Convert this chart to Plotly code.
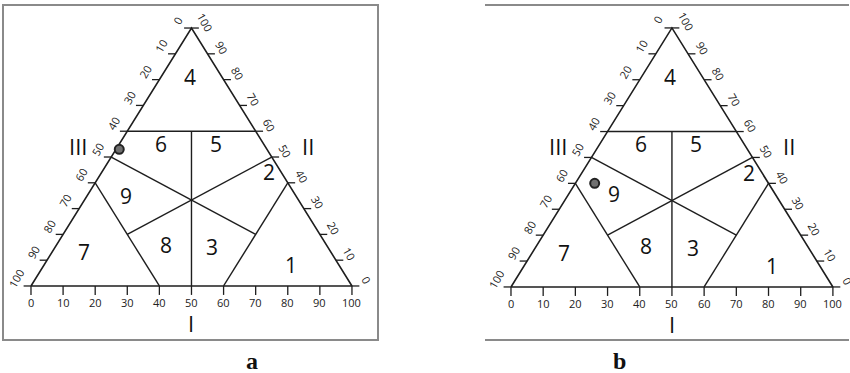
import math
import plotly.graph_objects as go

# tick values along each side (percent)
ticks = list(range(0, 101, 10))

# region boundaries, endpoints as (I, II, III) percent
boundaries = [
    ((40, 60, 0), (0, 60, 40)),
    ((50, 0, 50), (20, 60, 20)),
    ((40, 0, 60), (0, 40, 60)),
    ((60, 0, 40), (60, 40, 0)),
    ((0, 50, 50), (60, 20, 20)),
    ((50, 50, 0), (20, 20, 60)),
]

region_names = ['1', '2', '3', '4', '5', '6', '7', '8', '9']
region_pos_a = [(77, 8, 15), (52, 44, 4), (49, 15, 36), (9, 81, 10), (30, 55, 15),
                (13, 55, 32), (10, 13, 77), (34, 16, 50), (12, 35, 53)]
region_pos_b = region_pos_a[:8] + [(14, 36, 50)]

# plotted sample (I, II, III)
sample_a = (1, 53, 46)
sample_b = (6, 40, 54)

panel_names = ['a', 'b']

LINE = '#1e1e1e'
FONT = 'Open Sans'
S3 = math.sqrt(3) / 2


def xy(p):
    i, ii, iii = p
    return i + ii / 2, ii * S3


def panel(fig, xa, ya, regions, sample):
    xr, yr = 'x' if xa == 1 else 'x%d' % xa, 'y' if ya == 1 else 'y%d' % ya
    # outline
    corners = [(0, 0, 100), (100, 0, 0), (0, 100, 0), (0, 0, 100)]
    fig.add_trace(go.Scatter(x=[xy(c)[0] for c in corners], y=[xy(c)[1] for c in corners],
                             mode='lines', line=dict(color=LINE, width=1.6),
                             xaxis=xr, yaxis=yr, hoverinfo='skip'))
    # boundaries
    bx, by = [], []
    for p, q in boundaries:
        bx += [xy(p)[0], xy(q)[0], None]
        by += [xy(p)[1], xy(q)[1], None]
    fig.add_trace(go.Scatter(x=bx, y=by, mode='lines', line=dict(color=LINE, width=1.4),
                             xaxis=xr, yaxis=yr, hoverinfo='skip'))
    # ticks
    tx, ty = [], []
    for v in ticks:
        x0, y0 = xy((v, 0, 100 - v))
        tx += [x0, x0, None]; ty += [y0, y0 - 3, None]
        x0, y0 = xy((0, 100 - v, v))
        tx += [x0, x0 - 2.3, None]; ty += [y0, y0, None]
        x0, y0 = xy((100 - v, v, 0))
        tx += [x0, x0 + 2.3, None]; ty += [y0, y0, None]
        fig.add_annotation(x=xy((v, 0, 100 - v))[0], y=0, xref=xr, yref=yr, text=str(v),
                           showarrow=False, yshift=-17, font=dict(size=11, family=FONT, color='#222'))
        x0, y0 = xy((0, 100 - v, v))
        fig.add_annotation(x=x0, y=y0, xref=xr, yref=yr, text=str(v), textangle=-60,
                           showarrow=False, xshift=-14, yshift=8, font=dict(size=11, family=FONT, color='#222'))
        x0, y0 = xy((100 - v, v, 0))
        fig.add_annotation(x=x0, y=y0, xref=xr, yref=yr, text=str(v), textangle=60,
                           showarrow=False, xshift=14, yshift=6, font=dict(size=11, family=FONT, color='#222'))
    fig.add_trace(go.Scatter(x=tx, y=ty, mode='lines', line=dict(color=LINE, width=1.3),
                             xaxis=xr, yaxis=yr, hoverinfo='skip'))
    # region numbers
    for name, pos in zip(region_names, regions):
        x0, y0 = xy(pos)
        fig.add_annotation(x=x0, y=y0, xref=xr, yref=yr, text=name, showarrow=False,
                           font=dict(size=21, family=FONT, color='#111'))
    # side names
    for name, x0, y0 in [('III', 14.6, 47.1), ('II', 86.4, 47.1), ('I', 50, -12.3)]:
        fig.add_annotation(x=x0, y=y0, xref=xr, yref=yr, text=name, showarrow=False,
                           font=dict(size=22, family=FONT, color='#111'))
    # sample point
    sx, sy = xy(sample)
    fig.add_trace(go.Scatter(x=[sx], y=[sy], mode='markers', xaxis=xr, yaxis=yr,
                             marker=dict(size=9, color='#707070', line=dict(color='#222', width=2)),
                             hoverinfo='skip'))


fig = go.Figure()
panel(fig, 1, 1, region_pos_a, sample_a)
panel(fig, 2, 2, region_pos_b, sample_b)

axis_common = dict(showgrid=False, zeroline=False, showticklabels=False, ticks='',
                   showline=True, mirror=True, linecolor='#8a8a8a', linewidth=1.5)
layout = go.Layout(
    width=850, height=373, margin=dict(l=0, r=0, t=0, b=0),
    paper_bgcolor='white', plot_bgcolor='white', showlegend=False,
    xaxis=dict(domain=[4 / 850, 377 / 850], range=[-8.41, 107.8], **axis_common),
    yaxis=dict(domain=[1 - 339 / 373, 1 - 6 / 373], range=[-17.8, 94.0], **axis_common),
    xaxis2=dict(domain=[485 / 850, 849 / 850], range=[-8.07, 105.0], **axis_common),
    yaxis2=dict(domain=[1 - 339 / 373, 1 - 7 / 373], range=[-17.4, 93.6], **axis_common),
)
fig.update_layout(layout)

for name, px in zip(panel_names, [244, 628]):
    fig.add_annotation(x=px / 850, y=0, xref='paper', yref='paper', showarrow=False,
                       yanchor='bottom', yshift=-3,
                       text='<b>%s</b>' % name, font=dict(size=24, family='Liberation Serif', color='#111'))

fig.write_html('out.html', config={'displayModeBar': False},
               post_script="document.body.style.margin='0px';")
